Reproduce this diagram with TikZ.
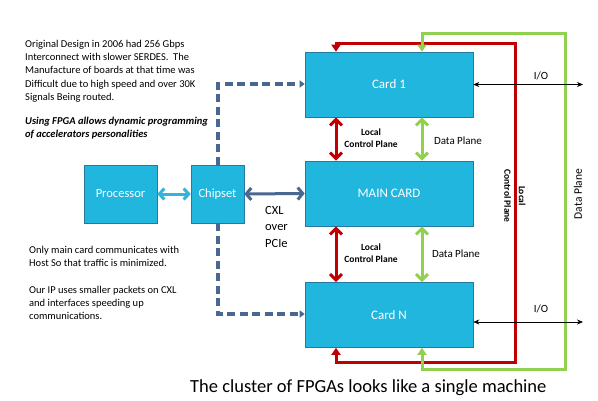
\documentclass[tikz,border=0pt]{standalone}
\usepackage{fontspec}
\setmainfont{Carlito}
\usetikzlibrary{arrows.meta,calc}
\definecolor{boxfill}{RGB}{33,182,222}
\definecolor{boxedge}{RGB}{40,120,160}
\definecolor{ctrlred}{RGB}{192,0,0}
\definecolor{datagreen}{RGB}{146,208,80}
\definecolor{steel}{RGB}{72,104,145}
\definecolor{lightarrow}{RGB}{50,180,220}
\tikzset{
  card/.style={draw=boxedge,line width=0.6pt,fill=boxfill,text=white,minimum width=168pt,minimum height=65pt,inner sep=0pt,font=\fontsize{13}{15}\selectfont},
  hostbox/.style={draw=boxedge,line width=0.6pt,fill=boxfill,text=white,minimum height=58pt,inner sep=0pt,font=\fontsize{12.5}{15}\selectfont},
  ctrlarrow/.style={draw=ctrlred,line width=3pt,{Straight Barb[length=6pt,width=12pt]}-{Straight Barb[length=6pt,width=12pt]}},
  dataarrow/.style={draw=datagreen,line width=3pt,{Straight Barb[length=6pt,width=12pt]}-{Straight Barb[length=6pt,width=12pt]}},
  ctrlloop/.style={draw=ctrlred,line width=3pt,{Triangle[length=7pt,width=9pt]}-{Triangle[length=7pt,width=9pt]}},
  dataloop/.style={draw=datagreen,line width=3pt,{Triangle[length=7pt,width=9pt]}-{Triangle[length=7pt,width=9pt]}},
  dashlink/.style={draw=steel,line width=3.3pt,dash pattern=on 8pt off 4.5pt,-{Triangle[length=5pt,width=7pt]}},
  ioarrow/.style={draw=black,line width=0.6pt,{Stealth[length=6pt,width=5pt]}-{Stealth[length=6pt,width=5pt]}},
  lbl/.style={font=\fontsize{9.5}{12.5}\selectfont\bfseries,align=center,inner sep=0pt},
  dlbl/.style={font=\fontsize{11}{13}\selectfont,inner sep=0pt},
  para/.style={font=\fontsize{10.5}{13.2}\selectfont,align=left,anchor=north west,inner sep=0pt}
}
\begin{document}
\begin{tikzpicture}[x=1pt,y=-1pt]
\useasboundingbox (0,0) rectangle (598,400);
\fill[white] (0,0) rectangle (598,400);
% cards
\node[card] (c1) at (389,84.5) {Card 1};
\node[card] (cm) at (389,193.5) {MAIN CARD};
\node[card] (cn) at (389,315) {Card N};
\node[hostbox,minimum width=73pt] (proc) at (120.5,194) {Processor};
\node[hostbox,minimum width=53pt] (chip) at (217.5,194) {Chipset};
% inter-card arrows
\coordinate (rx) at (336,0);
\coordinate (gx) at (422,0);
\draw[ctrlarrow] (c1.south -| rx) -- (cm.north -| rx);
\draw[ctrlarrow] (cm.south -| rx) -- (cn.north -| rx);
\draw[dataarrow] (c1.south -| gx) -- (cm.north -| gx);
\draw[dataarrow] (cm.south -| gx) -- (cn.north -| gx);
\node[lbl] (l1) at (371,138) {Local\\Control Plane};
\node[lbl] (l2) at (371,253) {Local\\Control Plane};
\node[dlbl] (d1) at (458,141) {Data Plane};
\node[dlbl] (d2) at (456,254) {Data Plane};
% loops
\coordinate (rtl) at (336,43);
\coordinate (rtr) at (515,43);
\coordinate (rbr) at (515,362);
\coordinate (rbl) at (336,362);
\draw[ctrlloop] (c1.north -| rtl) -- (rtl) -- (rtr) -- (rbr) -- (rbl) -- (cn.south -| rbl);
\coordinate (gtl) at (422,33);
\coordinate (gtr) at (565,33);
\coordinate (gbr) at (565,369);
\coordinate (gbl) at (422,369);
\draw[dataloop] (c1.north -| gtl) -- (gtl) -- (gtr) -- (gbr) -- (gbl) -- (cn.south -| gbl);
\node[lbl,rotate=-90,font=\fontsize{9.5}{14.5}\selectfont\bfseries] (lv) at (515,196) {Local\\Control Plane};
\node[dlbl,rotate=90,font=\fontsize{11.5}{13}\selectfont] (dv) at (578,194) {Data Plane};
% I/O
\coordinate (io1) at (583,84.5);
\coordinate (io2) at (583,322);
\draw[ioarrow] (c1.east) -- (io1);
\draw[ioarrow] (cn.east |- io2) -- (io2);
\node[dlbl] (iol1) at (541,76) {I/O};
\node[dlbl] (iol2) at (541,309) {I/O};
% host links
\draw[draw=lightarrow,line width=3pt,{Straight Barb[length=5pt,width=11pt]}-{Straight Barb[length=5pt,width=11pt]}] (proc.east) -- (chip.west);
\draw[draw=steel,line width=3pt,{Straight Barb[length=5pt,width=12pt]}-{Straight Barb[length=5pt,width=12pt]}] (chip.east) -- (cm.west);
\node[font=\fontsize{12.5}{16.5}\selectfont,align=left,anchor=north west,inner sep=0pt] (cxl) at (265,206) {CXL\\over\\PCIe};
\coordinate (dtop) at (218,84);
\coordinate (dbot) at (218,314);
\draw[dashlink] (chip.north -| dtop) -- (dtop) -- (c1.west |- dtop);
\draw[dashlink] (chip.south -| dbot) -- (dbot) -- (cn.west |- dbot);
% texts
\node[para] (t1) at (25,40) {Original Design in 2006 had 256 Gbps\\Interconnect with slower SERDES.\ \ The\\Manufacture of boards at that time was\\Difficult due to high speed and over 30K\\Signals Being routed.};
\node[para,font=\fontsize{10.5}{13.2}\selectfont\bfseries\itshape] (t2) at (25,117) {Using FPGA allows dynamic programming\\of accelerators personalities};
\node[para] (t3) at (29,246) {Only main card communicates with\\Host So that traffic is minimized.};
\node[para] (t4) at (29,286) {Our IP uses smaller packets on CXL\\and interfaces speeding up\\communications.};
\node[font=\fontsize{18.5}{22}\selectfont,anchor=west,inner sep=0pt] (cap) at (190,388) {The cluster of FPGAs looks like a single machine};
\end{tikzpicture}
\end{document}
